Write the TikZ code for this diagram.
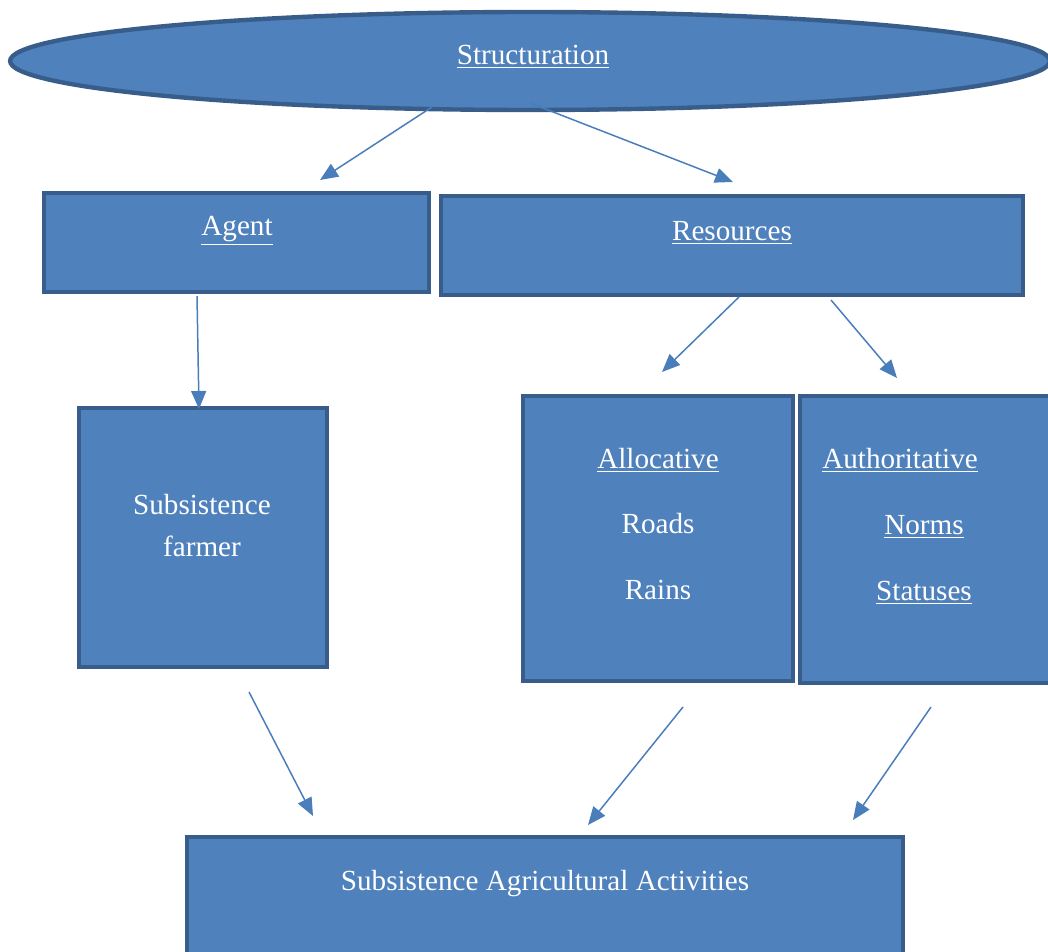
\documentclass[tikz,border=0pt]{standalone}
\usepackage{fontspec}
\setmainfont{Liberation Serif}
\usetikzlibrary{shapes.geometric,arrows.meta}
\definecolor{boxfill}{HTML}{4F81BD}
\definecolor{boxline}{HTML}{385D8A}
\definecolor{arrowcol}{HTML}{4A7EBB}

\begin{document}
\begin{tikzpicture}[x=0.02cm, y=-0.02cm,
	box/.style={draw=boxline, fill=boxfill, line width=2.5pt, rectangle, inner sep=0pt},
	oval/.style={draw=boxline, fill=boxfill, line width=2.5pt, ellipse, inner sep=0pt},
	txt/.style={text=white, font=\fontsize{16.6}{20}\selectfont, inner sep=0pt},
	arr/.style={draw=arrowcol, line width=0.85pt, -{Triangle[length=0.36cm, width=0.3cm]}}]
		\useasboundingbox (0,0) rectangle (1048,952);
		% Shapes:
		\node[oval, minimum width=20.8cm, minimum height=1.96cm] (struct) at (530, 61){};
		\node[box, minimum width=7.7cm, minimum height=1.98cm] (agent) at (236.5, 242.5){};
		\node[box, minimum width=11.64cm, minimum height=1.98cm] (res) at (732, 245.5){};
		\node[box, minimum width=4.96cm, minimum height=5.18cm] (farmer) at (203, 537.5){};
		\node[box, minimum width=5.4cm, minimum height=5.7cm] (alloc) at (658, 538.5){};
		\node[box, minimum width=5.2cm, minimum height=5.74cm] (auth) at (930, 539.5){};
		\node[box, minimum width=14.32cm, minimum height=2.86cm] (activ) at (545, 908.5){};
		% Texts:
		\node[txt] (structtxt) at (533, 57){\underline{Structuration}};
		\node[txt] (agenttxt) at (237, 231){\underline{Agent}};
		\node[txt] (restxt) at (732, 233){\underline{Resources}};
		\node[txt] (farmer1) at (202, 505){Subsistence};
		\node[txt] (farmer2) at (202, 546){farmer};
		\node[txt] (alloc1) at (658, 460){\underline{Allocative}};
		\node[txt] (alloc2) at (658, 524){Roads};
		\node[txt] (alloc3) at (658, 590){Rains};
		\node[txt] (auth1) at (900, 460){\underline{Authoritative}};
		\node[txt] (auth2) at (924, 527){\underline{Norms}};
		\node[txt] (auth3) at (924, 593){\underline{Statuses}};
		\node[txt] (activtxt) at (545, 884){Subsistence Agricultural Activities};
		% Arrows:
		\coordinate (structL) at (432, 107);
		\coordinate (structR) at (530, 103);
		\coordinate (agentIn) at (320, 180);
		\coordinate (resIn) at (733, 182);
		\coordinate (agentOut) at (197, 296);
		\coordinate (farmerIn) at (199, 409);
		\coordinate (resOutL) at (739, 297);
		\coordinate (allocIn) at (662, 372);
		\coordinate (resOutR) at (831, 300);
		\coordinate (authIn) at (897, 378);
		\coordinate (farmerOut) at (249, 692);
		\coordinate (activInL) at (313, 816);
		\coordinate (allocOut) at (683, 707);
		\coordinate (activInM) at (588, 825);
		\coordinate (authOut) at (931, 707);
		\coordinate (activInR) at (853, 820);
		\draw[arr] (structL) -- (agentIn);
		\draw[arr] (structR) -- (resIn);
		\draw[arr] (agentOut) -- (farmerIn);
		\draw[arr] (resOutL) -- (allocIn);
		\draw[arr] (resOutR) -- (authIn);
		\draw[arr] (farmerOut) -- (activInL);
		\draw[arr] (allocOut) -- (activInM);
		\draw[arr] (authOut) -- (activInR);
	\end{tikzpicture}
\end{document}
